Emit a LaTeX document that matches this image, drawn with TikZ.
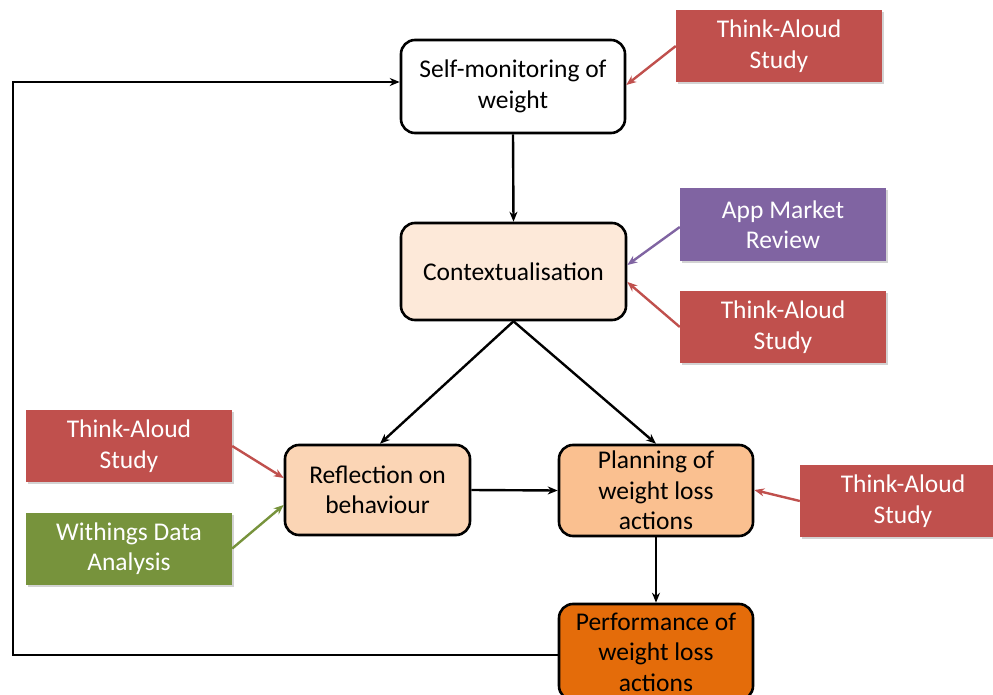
\documentclass[tikz,border=0pt]{standalone}
\usepackage{fontspec}
\setmainfont{Carlito}
\usetikzlibrary{arrows.meta,shadows}
\definecolor{tared}{HTML}{C0504D}
\definecolor{amrpurple}{HTML}{8064A2}
\definecolor{wgreen}{HTML}{77933C}
\definecolor{ctxfill}{HTML}{FDE9D9}
\definecolor{reffill}{HTML}{FBD5B5}
\definecolor{planfill}{HTML}{FAC090}
\definecolor{perffill}{HTML}{E46C0A}
\tikzset{
  proc/.style={draw=black, line width=2.6pt, rounded corners=14pt, align=center,
    font=\fontsize{25.5}{30.5}\selectfont, inner sep=0pt},
  src/.style={align=center, text=white, font=\fontsize{25.5}{30.5}\selectfont, inner sep=0pt,
    minimum width=206pt, minimum height=72pt,
    drop shadow={shadow xshift=1.5pt, shadow yshift=-2pt, opacity=0.35, fill=gray}},
  flow/.style={line width=2.4pt, -{Stealth[length=10pt,width=8pt]}},
  feed/.style={line width=2.6pt, -{Stealth[length=10pt,width=8pt]}},
}
\begin{document}
\begin{tikzpicture}[x=1pt,y=-1pt]
\useasboundingbox (0,0) rectangle (993,695);
\clip (0,0) rectangle (993,695);
% process boxes
\node[proc, fill=white, minimum width=224pt, minimum height=93pt] (self) at (513,86.5) {Self-monitoring of\\weight};
\node[proc, fill=ctxfill, minimum width=225pt, minimum height=97pt] (ctx) at (513.5,271.5) {Contextualisation};
\node[proc, fill=reffill, minimum width=185pt, minimum height=90pt] (ref) at (377.5,490) {Reflection on\\behaviour};
\node[proc, fill=planfill, minimum width=194pt, minimum height=91pt] (plan) at (656,490.5) {Planning of\\weight loss\\actions};
\node[proc, fill=perffill, minimum width=194pt, minimum height=96pt] (perf) at (656,652) {Performance of\\weight loss\\actions};
% source boxes
\node[src, fill=tared] (ta1) at (779,46) {Think-Aloud\\Study};
\node[src, fill=amrpurple] (amr) at (783,224.5) {App Market\\Review};
\node[src, fill=tared] (ta2) at (783,327) {Think-Aloud\\Study};
\node[src, fill=tared] (ta3) at (129,446) {Think-Aloud\\Study};
\node[src, fill=wgreen] (wd) at (129,548.5) {Withings Data\\Analysis};
\node[src, fill=tared] (ta4) at (903,501) {Think-Aloud\\Study};
% main flow
\draw[flow] (self.south) -- (ctx.north);
\draw[flow] (ctx.south) -- (ref.north -| 380,0);
\draw[flow] (ctx.south) -- (plan.north);
\draw[flow] (ref.east) -- (plan.west);
\draw[flow] (plan.south) -- (perf.north);
\coordinate (c1) at (13,655);
\coordinate (c2) at (13,82);
\draw[feed] (perf.west |- c1) -- (c1) -- (c2) -- (self.west |- c2);
% source arrows
\draw[tared, flow] (ta1.west) -- (self.east |- 0,85);
\draw[amrpurple, flow] (amr.west |- 0,227) -- (ctx.east |- 0,265);
\draw[tared, flow] (ta2.west) -- (ctx.east |- 0,282);
\draw[tared, flow] (ta3.east) -- (ref.west |- 0,478);
\draw[wgreen, flow] (wd.east) -- (ref.west |- 0,505);
\draw[tared, flow] (ta4.west) -- (plan.east |- 0,490);
\end{tikzpicture}
\end{document}
